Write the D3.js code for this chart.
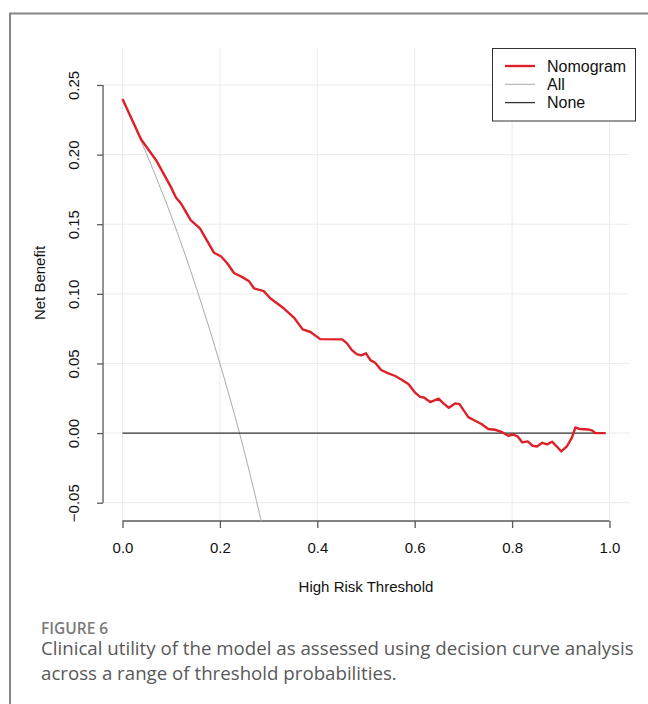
<!DOCTYPE html>
<html lang="en">
	<head>
		<meta charset="utf-8">
		<title>Decision curve</title>
		<script src="https://d3js.org/d3.v7.min.js"></script>
		<style>
			body { margin: 0; background: #fff; }
		</style>
	</head>
	<body>
		<script type="text/javascript">

			// Nomogram net benefit
			const thrNomogram = [0.000, 0.038, 0.069, 0.099, 0.110, 0.120, 0.140, 0.159, 0.188, 0.202,
				0.215, 0.229, 0.246, 0.260, 0.270, 0.290, 0.304, 0.331, 0.352, 0.370,
				0.386, 0.406, 0.451, 0.461, 0.471, 0.481, 0.490, 0.500, 0.509, 0.519,
				0.531, 0.546, 0.560, 0.574, 0.587, 0.601, 0.611, 0.619, 0.632, 0.649,
				0.659, 0.670, 0.683, 0.692, 0.710, 0.724, 0.737, 0.751, 0.765, 0.778,
				0.792, 0.802, 0.812, 0.821, 0.832, 0.842, 0.851, 0.862, 0.872, 0.882,
				0.891, 0.901, 0.913, 0.923, 0.930, 0.939, 0.956, 0.965, 0.971, 0.992];
			const nbNomogram = [0.240, 0.211, 0.196, 0.177, 0.169, 0.165, 0.153, 0.147, 0.1295, 0.127,
				0.122, 0.115, 0.112, 0.109, 0.104, 0.102, 0.0967, 0.0896, 0.083, 0.0745,
				0.0726, 0.0675, 0.0673, 0.0644, 0.0596, 0.0567, 0.0558, 0.0573, 0.0524, 0.0505,
				0.0453, 0.0429, 0.041, 0.0381, 0.0352, 0.029, 0.026, 0.0256, 0.0223, 0.0247,
				0.0213, 0.0182, 0.0213, 0.0208, 0.0115, 0.0089, 0.0065, 0.0029, 0.0024, 0.0009,
				-0.0019, -0.001, -0.0026, -0.0067, -0.006, -0.0091, -0.0096, -0.007, -0.0081, -0.0062,
				-0.0093, -0.0132, -0.0093, -0.0031, 0.0041, 0.0029, 0.0026, 0.0017, 0.0000, 0.0000];

			// "All" (treat everyone) curve
			const thrAll = [0, 0.05, 0.10, 0.15, 0.20, 0.25, 0.30];
			const nbAll = [0.240, 0.200, 0.156, 0.106, 0.050, -0.013, -0.086];

			// "None" (treat no one)
			const thrNone = [0, 0.992];
			const nbNone = [0, 0];

			const xTicks = [0, 0.2, 0.4, 0.6, 0.8, 1.0];
			const yTicks = [-0.05, 0, 0.05, 0.10, 0.15, 0.20, 0.25];

			const legendLabels = ["Nomogram", "All", "None"];
			const legendColors = ["#dd2128", "#aaaaaa", "#333333"];
			const legendWidths = [2.4, 1, 1.3];

			const width = 648;
			const height = 704;

			// plot region (R style, 4% padding round the data)
			const plotTop = 48;
			const plotBottom = 521;

			const x = d3.scaleLinear()
				.domain([0, 1])
				.range([122.5, 609.5]);

			const y = d3.scaleLinear()
				.domain([-0.05, 0.25])
				.range([502.7, 85]);

			const plotLeft = x(-0.04);
			const plotRight = x(1.04);

			const svg = d3.select("body").append("svg")
				.attr("width", width)
				.attr("height", height)
				.attr("viewBox", [0, 0, width, height])
				.style("font-family", "'Liberation Sans', Arial, sans-serif");

			// page frame
			svg.append("path")
				.attr("d", `M10,${height} L10,13.5 L${width},13.5`)
				.attr("fill", "none")
				.attr("stroke", "#858585")
				.attr("stroke-width", 2);

			svg.append("clipPath")
				.attr("id", "plot-clip")
				.append("rect")
				.attr("x", plotLeft)
				.attr("y", plotTop)
				.attr("width", plotRight - plotLeft)
				.attr("height", plotBottom - plotTop);

			// grid
			const grid = svg.append("g")
				.attr("stroke", "#ebebeb")
				.attr("stroke-width", 1);

			grid.selectAll(".vgrid")
				.data(xTicks)
				.join("line")
				.attr("x1", d => x(d))
				.attr("x2", d => x(d))
				.attr("y1", plotTop)
				.attr("y2", plotBottom);

			grid.selectAll(".hgrid")
				.data(yTicks)
				.join("line")
				.attr("x1", plotLeft)
				.attr("x2", plotRight)
				.attr("y1", d => y(d))
				.attr("y2", d => y(d));

			// axes
			const xAxis = svg.append("g")
				.attr("transform", `translate(0,${plotBottom})`)
				.call(d3.axisBottom(x).tickValues(xTicks).tickSize(7).tickPadding(14)
					.tickFormat(d3.format(".1f")));
			xAxis.select(".domain")
				.attr("d", `M${x(0)},0H${x(1)}`);

			const yAxis = svg.append("g")
				.attr("transform", `translate(${plotLeft},0)`)
				.call(d3.axisLeft(y).tickValues(yTicks).tickSize(6)
					.tickFormat(d => d3.format(".2f")(d).replace("-", "\u2212")));
			yAxis.select(".domain")
				.attr("d", `M0,${y(-0.05)}V${y(0.25)}`);

			svg.selectAll(".domain, .tick line")
				.attr("stroke", "#595959")
				.attr("stroke-width", 1.3);

			xAxis.selectAll(".tick text")
				.attr("fill", "#111")
				.style("font-size", "15px");

			// rotated y tick labels, as base R draws them
			yAxis.selectAll(".tick text")
				.attr("fill", "#111")
				.style("font-size", "15px")
				.attr("x", null)
				.attr("y", null)
				.attr("dy", null)
				.attr("text-anchor", "middle")
				.attr("dominant-baseline", "central")
				.attr("transform", `translate(${73 - plotLeft},0) rotate(-90)`);

			// axis titles
			svg.append("text")
				.attr("x", (x(0) + x(1)) / 2)
				.attr("y", 592)
				.attr("text-anchor", "middle")
				.style("font-size", "15px")
				.attr("fill", "#111")
				.text("High Risk Threshold");

			svg.append("text")
				.attr("transform", "translate(45,283) rotate(-90)")
				.attr("text-anchor", "middle")
				.style("font-size", "15px")
				.attr("fill", "#111")
				.text("Net Benefit");

			// curves
			const line = d3.line()
				.x(d => x(d[0]))
				.y(d => y(d[1]));

			const curves = svg.append("g")
				.attr("clip-path", "url(#plot-clip)")
				.attr("fill", "none")
				.attr("stroke-linejoin", "round");

			curves.append("path")
				.attr("d", line.curve(d3.curveMonotoneX)(thrAll.map((t, i) => [t, nbAll[i]])))
				.attr("stroke", legendColors[1])
				.attr("stroke-width", legendWidths[1]);

			curves.append("path")
				.attr("d", line.curve(d3.curveLinear)(thrNone.map((t, i) => [t, nbNone[i]])))
				.attr("stroke", legendColors[2])
				.attr("stroke-width", legendWidths[2]);

			curves.append("path")
				.attr("d", line.curve(d3.curveLinear)(thrNomogram.map((t, i) => [t, nbNomogram[i]])))
				.attr("stroke", legendColors[0])
				.attr("stroke-width", legendWidths[0]);

			// legend
			const legend = svg.append("g");

			legend.append("rect")
				.attr("x", 492.5)
				.attr("y", 48.5)
				.attr("width", 143)
				.attr("height", 72.5)
				.attr("fill", "#fff")
				.attr("stroke", "#333")
				.attr("stroke-width", 1);

			const item = legend.selectAll(".item")
				.data(legendLabels)
				.join("g")
				.attr("transform", (d, i) => `translate(505,${66 + i * 18.3})`);

			item.append("line")
				.attr("x1", 0)
				.attr("x2", 30)
				.attr("stroke", (d, i) => legendColors[i])
				.attr("stroke-width", (d, i) => legendWidths[i]);

			item.append("text")
				.attr("x", 42)
				.attr("dominant-baseline", "central")
				.style("font-size", "16px")
				.attr("fill", "#111")
				.text(d => d);

			// caption
			const caption = svg.append("g")
				.style("font-family", "'Open Sans', 'Noto Sans', sans-serif");

			caption.append("text")
				.attr("x", 41)
				.attr("y", 634)
				.style("font-size", "15.5px")
				.style("font-weight", 600)
				.attr("fill", "#7a7a7a")
				.text("FIGURE 6");

			caption.selectAll(".cap")
				.data(["Clinical utility of the model as assessed using decision curve analysis",
					"across a range of threshold probabilities."])
				.join("text")
				.attr("x", 41)
				.attr("y", (d, i) => 655 + i * 25)
				.style("font-size", "18.7px")
				.attr("fill", "#595959")
				.text(d => d);

		</script>
	</body>
</html>
